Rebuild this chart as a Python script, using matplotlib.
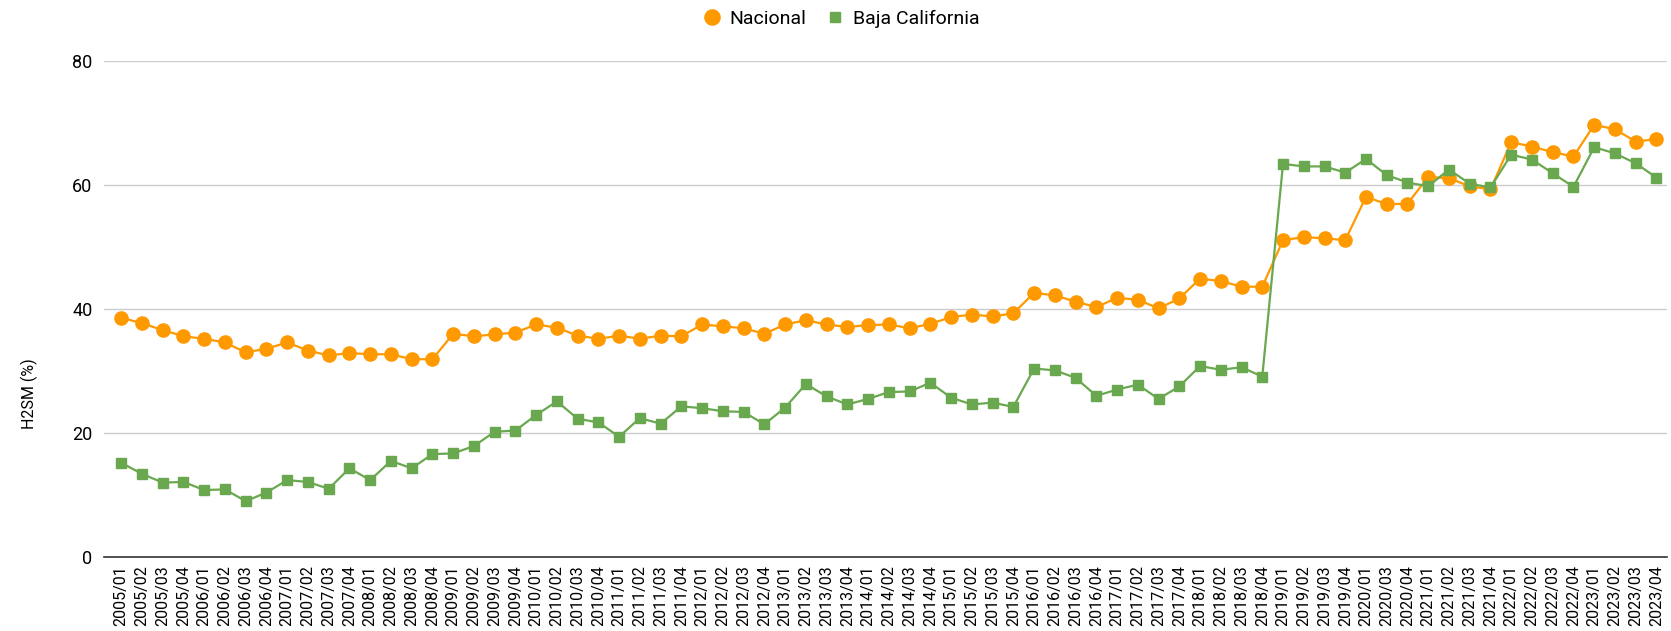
import matplotlib
matplotlib.use("Agg")
from matplotlib import pyplot as plt

quarters = [f"{y}/0{q}" for y in range(2005, 2024) for q in range(1, 5)]
# 2020/02 is not in the source (no survey that quarter)
quarters.remove("2020/02")

nacional = [
    38.6, 37.7, 36.6, 35.6,
    35.2, 34.6, 33.0, 33.6,
    34.6, 33.3, 32.5, 32.9,
    32.7, 32.7, 31.9, 31.9,
    36.0, 35.6, 35.9, 36.2,
    37.5, 37.0, 35.7, 35.2,
    35.7, 35.2, 35.7, 35.6,
    37.5, 37.2, 36.9, 36.0,
    37.5, 38.2, 37.5, 37.1,
    37.4, 37.5, 36.9, 37.6,
    38.7, 39.1, 38.8, 39.3,
    42.6, 42.2, 41.2, 40.3,
    41.8, 41.5, 40.1, 41.7,
    44.9, 44.5, 43.6, 43.6,
    51.1, 51.6, 51.4, 51.1,
    58.1, 56.9, 57.0,
    61.3, 61.1, 59.8, 59.3,
    66.9, 66.2, 65.3, 64.6,
    69.7, 69.0, 67.0, 67.4,
]

baja_california = [
    15.2, 13.4, 12.0, 12.1,
    10.8, 10.9, 9.0, 10.4,
    12.4, 12.1, 11.0, 14.3,
    12.4, 15.5, 14.3, 16.6,
    16.7, 17.9, 20.2, 20.4,
    22.9, 25.1, 22.3, 21.7,
    19.4, 22.4, 21.5, 24.3,
    24.0, 23.5, 23.4, 21.4,
    24.1, 27.9, 25.9, 24.6,
    25.5, 26.6, 26.7, 28.1,
    25.7, 24.6, 24.9, 24.2,
    30.4, 30.1, 28.9, 26.0,
    27.0, 27.8, 25.5, 27.5,
    30.8, 30.2, 30.6, 29.1,
    63.4, 63.0, 63.0, 62.0,
    64.2, 61.6, 60.4,
    59.8, 62.5, 60.2, 59.6,
    64.9, 64.1, 61.9, 59.7,
    66.1, 65.1, 63.5, 61.2,
]

plt.rcParams['font.family'] = ['Roboto', 'DejaVu Sans']

fig = plt.figure(figsize=(16.71, 6.31), dpi=100)
ax = fig.add_axes([0.062, 0.1173, 0.9355, 0.786])

x = list(range(len(quarters)))
ax.plot(x, nacional, color='#FF9900', marker='o', markersize=9.5,
        linewidth=1.6, label='Nacional', zorder=3)
ax.plot(x, baja_california, color='#6AA84F', marker='s', markersize=6.6,
        linewidth=1.6, label='Baja California', zorder=4)

ax.set_ylim(0, 80)
ax.set_xlim(-0.85, len(quarters) - 0.5)
ax.set_yticks([0, 20, 40, 60, 80])
ax.set_xticks(x)
ax.set_xticklabels(quarters, rotation=90, fontsize=11.5)
ax.tick_params(axis='y', labelsize=13, length=0, pad=8)
ax.tick_params(axis='x', length=0, pad=6)
ax.grid(axis='y', color='#cccccc', linewidth=1)
ax.set_axisbelow(True)
for side in ['top', 'right', 'left']:
    ax.spines[side].set_visible(False)
ax.spines['bottom'].set_color('#333333')
ax.spines['bottom'].set_linewidth(1.2)
ax.spines['bottom'].set_zorder(5)

ax.set_ylabel('H2SM (%)', fontsize=11.5)
ax.yaxis.set_label_coords(-0.042, 0.33)

fig.legend(loc='upper center', bbox_to_anchor=(0.503, 1.012), ncol=2,
           frameon=False, fontsize=14, handlelength=1.0,
           handletextpad=0.4, columnspacing=1.0, markerscale=1.15)
# markers only in legend
leg = fig.legends[0]
for h in leg.legend_handles:
    h.set_linestyle('None')

fig.savefig('out.png', dpi=100)
